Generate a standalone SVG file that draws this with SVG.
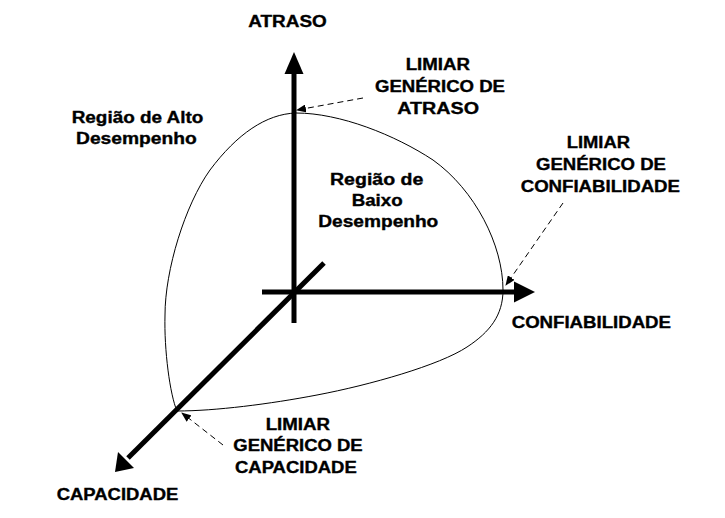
<svg xmlns="http://www.w3.org/2000/svg" width="725" height="518" viewBox="0 0 725 518">
<style>
.t{font-family:"Liberation Sans",Arial,sans-serif;font-weight:bold;font-size:16px;fill:#000;stroke:#000;stroke-width:0.35}
.axis{stroke:#000;stroke-width:5;fill:none}
.dash{stroke:#000;stroke-width:1;stroke-dasharray:6,4;fill:none}
.curve{stroke:#000;stroke-width:1;fill:none}
</style>
<defs>
<marker id="ah" markerWidth="10" markerHeight="8" refX="9" refY="4" orient="auto" markerUnits="userSpaceOnUse">
<path d="M0,0 L10,4 L0,8 z" fill="#000"/>
</marker>
</defs>
<rect width="725" height="518" fill="#fff"/>
<g id="curve">
<path class="curve" d="M177,411 C170,395 164,350 165,315 C165,270 185,205 210,170 C237,134 266,114 296,113 C340,113 395,135 433,160 C475,190 503,245 503,290 C503,315 490,332 467,347 C440,365 370,385 317,395 C270,404 215,411 177,411"/>
</g>
<g id="connectors">
<line class="axis" x1="294" y1="323" x2="294" y2="70"/>
<polygon points="294,52 284.5,74 303.5,74" fill="#000"/>
<line class="axis" x1="262" y1="292" x2="517" y2="292"/>
<polygon points="535,292 514,281.5 514,302.5" fill="#000"/>
<line class="axis" x1="324" y1="263" x2="128" y2="458"/>
<polygon points="115,472 118,452 134,468" fill="#000"/>
<line class="dash" x1="363" y1="98" x2="297" y2="110" marker-end="url(#ah)"/>
<line class="dash" x1="563" y1="203" x2="506" y2="285" marker-end="url(#ah)"/>
<line class="dash" x1="223" y1="445" x2="182" y2="413" marker-end="url(#ah)"/>
</g>
<g id="axis-atraso"><text class="t" x="248.3" y="27" textLength="78.4" lengthAdjust="spacingAndGlyphs">ATRASO</text></g>
<g id="axis-confiabilidade"><text class="t" x="511.7" y="328.3" textLength="159.3" lengthAdjust="spacingAndGlyphs">CONFIABILIDADE</text></g>
<g id="axis-capacidade"><text class="t" x="56.7" y="500" textLength="121.6" lengthAdjust="spacingAndGlyphs">CAPACIDADE</text></g>
<g id="limiar-atraso">
<text class="t" x="405.7" y="70" textLength="64.3" lengthAdjust="spacingAndGlyphs">LIMIAR</text>
<text class="t" x="375" y="92" textLength="130" lengthAdjust="spacingAndGlyphs">GENÉRICO DE</text>
<text class="t" x="397.3" y="114" textLength="81.7" lengthAdjust="spacingAndGlyphs">ATRASO</text>
</g>
<g id="limiar-confiabilidade">
<text class="t" x="566.7" y="148.3" textLength="63.3" lengthAdjust="spacingAndGlyphs">LIMIAR</text>
<text class="t" x="536" y="170" textLength="130" lengthAdjust="spacingAndGlyphs">GENÉRICO DE</text>
<text class="t" x="520.7" y="191.7" textLength="159.3" lengthAdjust="spacingAndGlyphs">CONFIABILIDADE</text>
</g>
<g id="limiar-capacidade">
<text class="t" x="265.7" y="429.5" textLength="64.3" lengthAdjust="spacingAndGlyphs">LIMIAR</text>
<text class="t" x="233.3" y="451" textLength="129.4" lengthAdjust="spacingAndGlyphs">GENÉRICO DE</text>
<text class="t" x="235" y="472.5" textLength="121.7" lengthAdjust="spacingAndGlyphs">CAPACIDADE</text>
</g>
<g id="regiao-alto">
<text class="t" x="71.7" y="123.3" textLength="131.6" lengthAdjust="spacingAndGlyphs">Região de Alto</text>
<text class="t" x="76" y="144" textLength="120.7" lengthAdjust="spacingAndGlyphs">Desempenho</text>
</g>
<g id="regiao-baixo">
<text class="t" x="330" y="185" textLength="93.3" lengthAdjust="spacingAndGlyphs">Região de</text>
<text class="t" x="351.7" y="206" textLength="51" lengthAdjust="spacingAndGlyphs">Baixo</text>
<text class="t" x="318.3" y="226.7" textLength="120" lengthAdjust="spacingAndGlyphs">Desempenho</text>
</g>
</svg>
